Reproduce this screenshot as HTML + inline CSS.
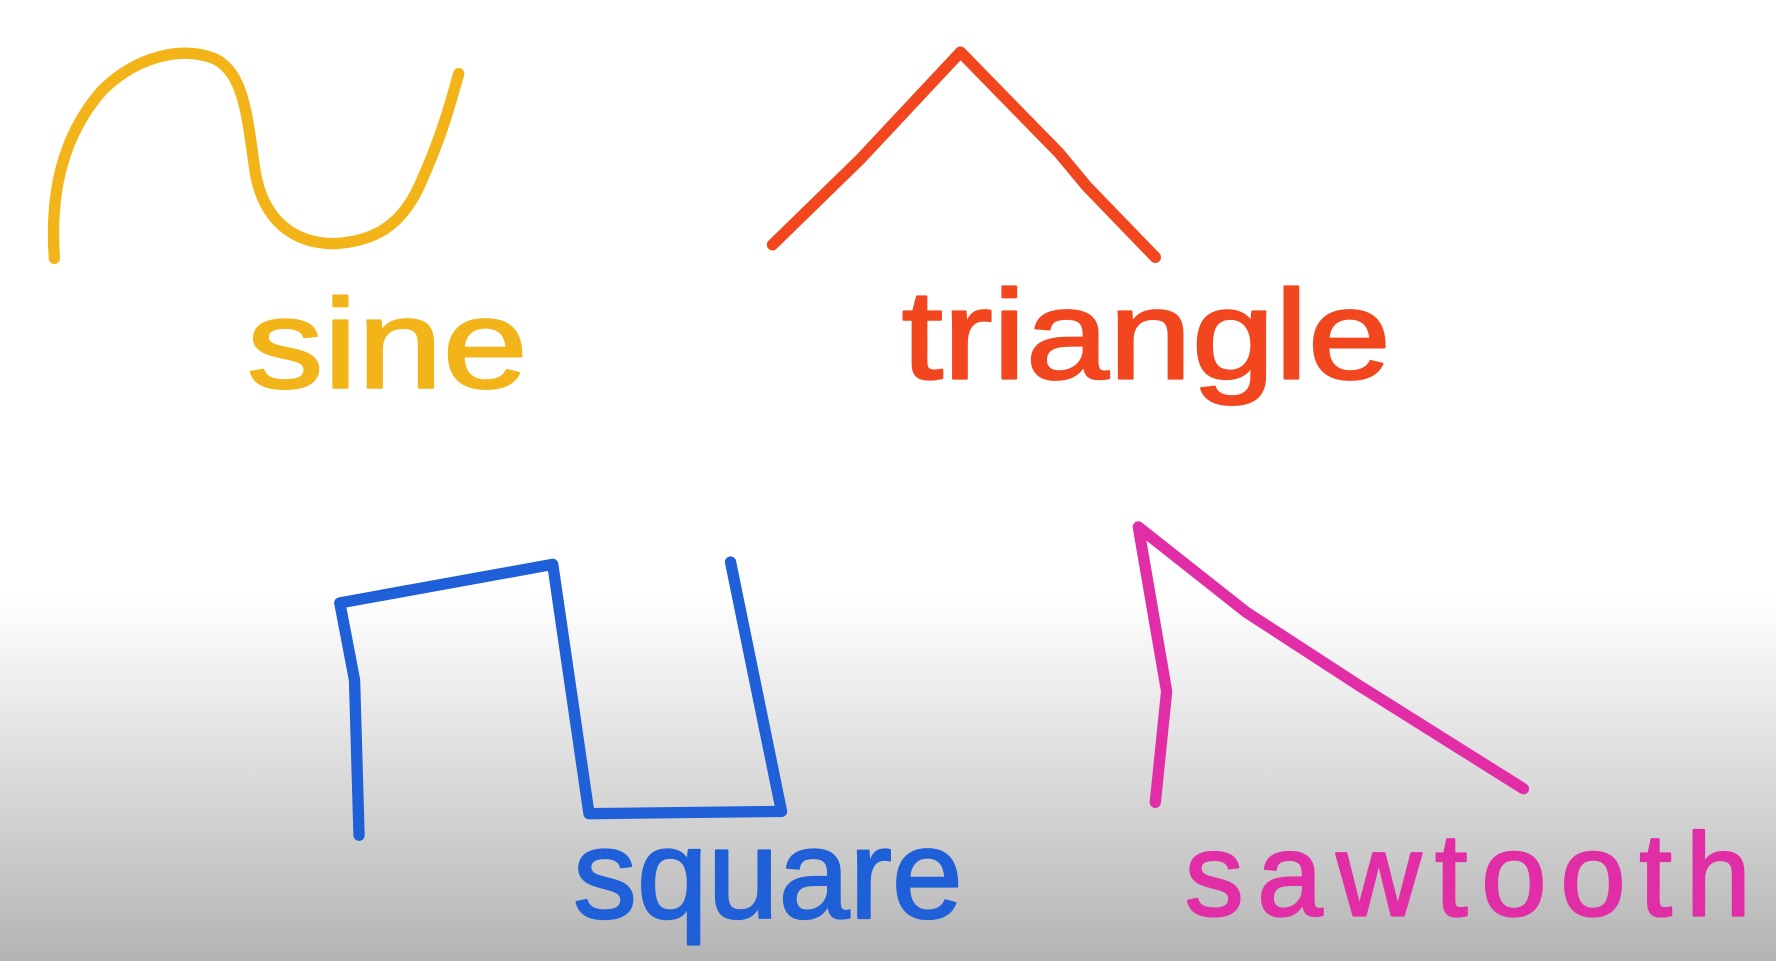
<!DOCTYPE html>
<html><head><meta charset="utf-8"><style>
html,body{margin:0;padding:0;width:1776px;height:961px;overflow:hidden;background:#fff}
svg{display:block}
text{font-family:"Liberation Sans",sans-serif;stroke-linejoin:round}
</style></head><body>
<svg width="1776" height="961" viewBox="0 0 1568 848" preserveAspectRatio="none">
<defs><linearGradient id="bg" x1="0" y1="0" x2="0" y2="1">
<stop offset="0" stop-color="#ffffff"/><stop offset="0.62" stop-color="#ffffff"/><stop offset="0.72" stop-color="#ececec"/><stop offset="1" stop-color="#b4b4b4"/></linearGradient></defs>
<rect x="0" y="0" width="1568" height="848" fill="url(#bg)"/>
<g fill="none" stroke-width="10" stroke-linecap="round" stroke-linejoin="round">
<path stroke="#f2b418" d="M48,228 C44,170 55,120 90,80 C120,50 160,40 190,52 C215,65 218,100 225,150 C232,195 260,215 295,215 C330,213 355,200 372,160 C390,120 398,90 405,65"/>
<path stroke="#f2461e" d="M682,216 L760,140 L848,46 L935,135 L960,165 L1020,227"/>
<path stroke="#1f5fd8" d="M317,737 L313,600 L300,532 L488,498 L520,718 L690,716 L645,496"/>
<path stroke="#e22ea6" d="M1020,708 L1030,610 L1005,465 L1100,540 L1200,605 L1345,696"/>
</g>
<g stroke-width="2" font-size="112">
<text x="218" y="342" fill="#f2b418" stroke="#f2b418" textLength="248" lengthAdjust="spacingAndGlyphs">sine</text>
<text x="796" y="334" fill="#f2461e" stroke="#f2461e" textLength="432" lengthAdjust="spacingAndGlyphs">triangle</text>
<text x="506" y="810" fill="#1f5fd8" stroke="#1f5fd8" textLength="344" lengthAdjust="spacingAndGlyphs">square</text>
<text x="1046" y="808" fill="#e22ea6" stroke="#e22ea6" font-size="104" textLength="500" lengthAdjust="spacing">sawtooth</text>
</g>
</svg>
</body></html>
